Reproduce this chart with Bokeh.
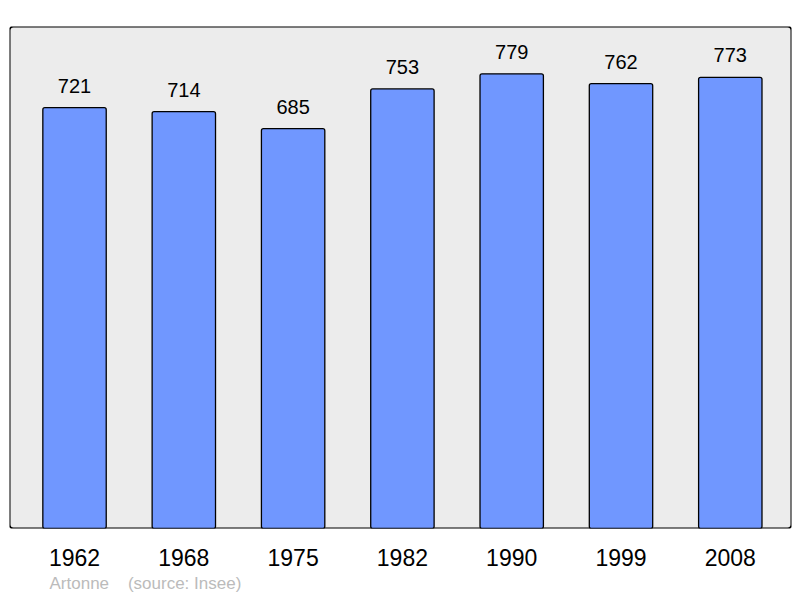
from bokeh.plotting import figure
from bokeh.models import ColumnDataSource, Range1d, FixedTicker, BoxAnnotation, Title
from bokeh.core.properties import value
from bokeh.embed import file_html
from bokeh.resources import INLINE

years = ["1962", "1968", "1975", "1982", "1990", "1999", "2008"]
population = [721, 714, 685, 753, 779, 762, 773]
commune = "Artonne"
source_note = "(source: Insee)"

xs = list(range(len(years)))
src = ColumnDataSource(dict(x=xs, top=population, label=[str(v) for v in population]))

p = figure(width=800, height=598, output_backend="svg", toolbar_location=None,
           x_range=Range1d(-0.595, 6.56), y_range=Range1d(0, 860),
           min_border_left=9, min_border_right=9, min_border_top=26, min_border_bottom=70)
p.background_fill_color = "white"
p.border_fill_color = "white"
p.outline_line_color = None
p.grid.visible = False
p.yaxis.visible = False

frame = BoxAnnotation(fill_color="#ececec", fill_alpha=1.0, line_color="black",
                      line_alpha=1.0, line_width=2, border_radius=4, level="underlay")
p.add_layout(frame)

p.vbar(x="x", top="top", bottom=0, width=0.58, source=src,
       fill_color="#7097ff", line_color="black", line_width=1.3, border_radius=2)

p.text(x="x", y="top", text="label", source=src, text_align="center",
       text_baseline="alphabetic", y_offset=-22, text_font=value("Liberation Sans"),
       text_font_size="20px", text_color="black")

ax = p.xaxis[0]
ax.ticker = FixedTicker(ticks=xs)
ax.major_label_overrides = {i: y for i, y in enumerate(years)}
ax.major_label_text_font = "Liberation Sans"
ax.major_label_text_font_size = "23px"
ax.major_label_text_color = "black"
ax.axis_line_color = None
ax.major_tick_line_color = None
ax.minor_tick_line_color = None
ax.major_tick_out = 0
ax.major_tick_in = 0
ax.major_label_standoff = 20

footer = Title(text=commune + "\u00a0" * 4 + source_note, align="left", offset=40,
               text_font="Liberation Sans", text_font_size="17px",
               text_font_style="normal", text_color="#bbbbbb", standoff=7)
p.add_layout(footer, "below")

open("out.html", "w").write(file_html(p, INLINE))
